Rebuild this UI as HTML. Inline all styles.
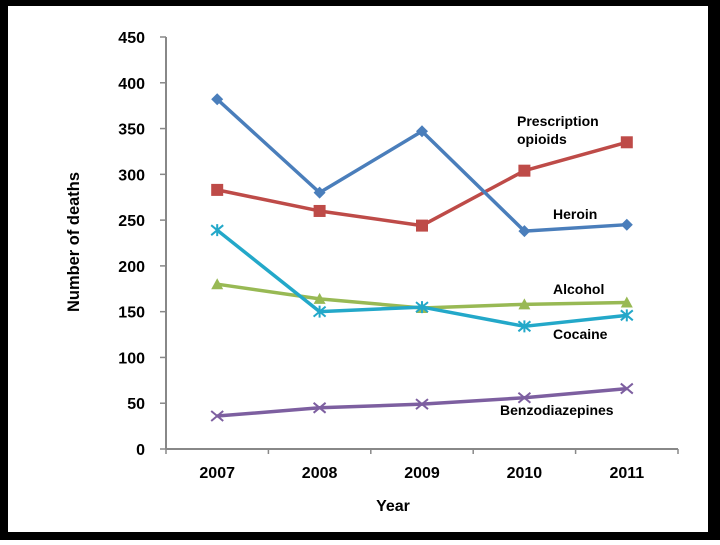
<!DOCTYPE html>
<html><head><style>
body{margin:0;background:#fff;}
svg text{font-family:"Liberation Sans",sans-serif;font-weight:bold;fill:#000;}
</style></head><body>
<svg width="720" height="540" id="c">
<rect x="0" y="0" width="720" height="540" fill="#000"/>
<rect x="8" y="6" width="700" height="526" fill="#fff"/>
<g id="g"></g>
<text x="393" y="511" font-size="16" text-anchor="middle">Year</text>
<text transform="translate(79,242) rotate(-90)" font-size="17" text-anchor="middle" textLength="140" lengthAdjust="spacingAndGlyphs">Number of deaths</text>
<text x="517" y="126" font-size="14">Prescription</text>
<text x="517" y="144" font-size="14">opioids</text>
<text x="553" y="219" font-size="14">Heroin</text>
<text x="553" y="294" font-size="14">Alcohol</text>
<text x="553" y="339" font-size="14">Cocaine</text>
<text x="500" y="415" font-size="14">Benzodiazepines</text>
</svg>
<script>
const years=["2007","2008","2009","2010","2011"];
const yTicks=[0,50,100,150,200,250,300,350,400,450];
const heroin=[382,280,347,238,245];
const opioids=[283,260,244,304,335];
const cocaine=[239,150,155,134,146];
const alcohol=[180,164,154,158,160];
const benzo=[36,45,49,56,66];
const NS="http://www.w3.org/2000/svg";
const g=document.getElementById('g');
const x0=166,x1=678,yTop=37,yBot=449;
const step=(x1-x0)/years.length;
const X=i=>x0+step*(i+0.5);
const Y=v=>yBot-(v/450)*(yBot-yTop);
function el(t,a){const e=document.createElementNS(NS,t);for(const k in a)e.setAttribute(k,a[k]);g.appendChild(e);return e;}
let ax=el('line',{x1:x0,y1:yTop,x2:x0,y2:yBot,stroke:'#888','stroke-width':2});


let bx=el('line',{x1:x0,y1:yBot,x2:x1,y2:yBot,stroke:'#888','stroke-width':2});


yTicks.forEach(v=>{
 const t=el('line',{x1:x0-6,y1:Y(v),x2:x0,y2:Y(v),stroke:'#888','stroke-width':1.5});
 
 
 const l=el('text',{x:145,y:Y(v)+6,'font-size':16,'text-anchor':'end'});l.textContent=v;
 
 
});
for(let i=0;i<=years.length;i++){
 const t=el('line',{x1:x0+step*i,y1:yBot,x2:x0+step*i,y2:yBot+5,stroke:'#888','stroke-width':1.5});
 
 
}
years.forEach((y,i)=>{
 const l=el('text',{x:X(i),y:478,'font-size':16,'text-anchor':'middle'});l.textContent=y;
 
 
});
function series(d,col,mk,name){
 const p=el('polyline',{points:d.map((v,i)=>X(i)+','+Y(v)).join(' '),fill:'none',stroke:col,'stroke-width':3.5,'stroke-linejoin':'round'});
 
 
 d.forEach((v,i)=>{
  const cx=X(i),cy=Y(v);let m;
  if(mk==='d')m=el('polygon',{points:`${cx},${cy-6} ${cx+6},${cy} ${cx},${cy+6} ${cx-6},${cy}`,fill:col});
  else if(mk==='s')m=el('rect',{x:cx-6,y:cy-6,width:12,height:12,fill:col});
  else if(mk==='t')m=el('polygon',{points:`${cx},${cy-6} ${cx+6},${cy+5} ${cx-6},${cy+5}`,fill:col});
  else if(mk==='x')m=el('path',{d:`M${cx-6} ${cy-5}L${cx+6} ${cy+5}M${cx-6} ${cy+5}L${cx+6} ${cy-5}`,stroke:col,'stroke-width':2});
  else m=el('path',{d:`M${cx-6} ${cy-5}L${cx+6} ${cy+5}M${cx-6} ${cy+5}L${cx+6} ${cy-5}M${cx} ${cy-6}L${cx} ${cy+6}`,stroke:col,'stroke-width':2});
  
  
 });
}
series(benzo,'#7d5fa0','x','benzodiazepines');
series(alcohol,'#98b954','t','alcohol');
series(cocaine,'#23a8c9','*','cocaine');
series(opioids,'#be4b48','s','prescription-opioids');
series(heroin,'#4a7ebb','d','heroin');
</script>
</body></html>
